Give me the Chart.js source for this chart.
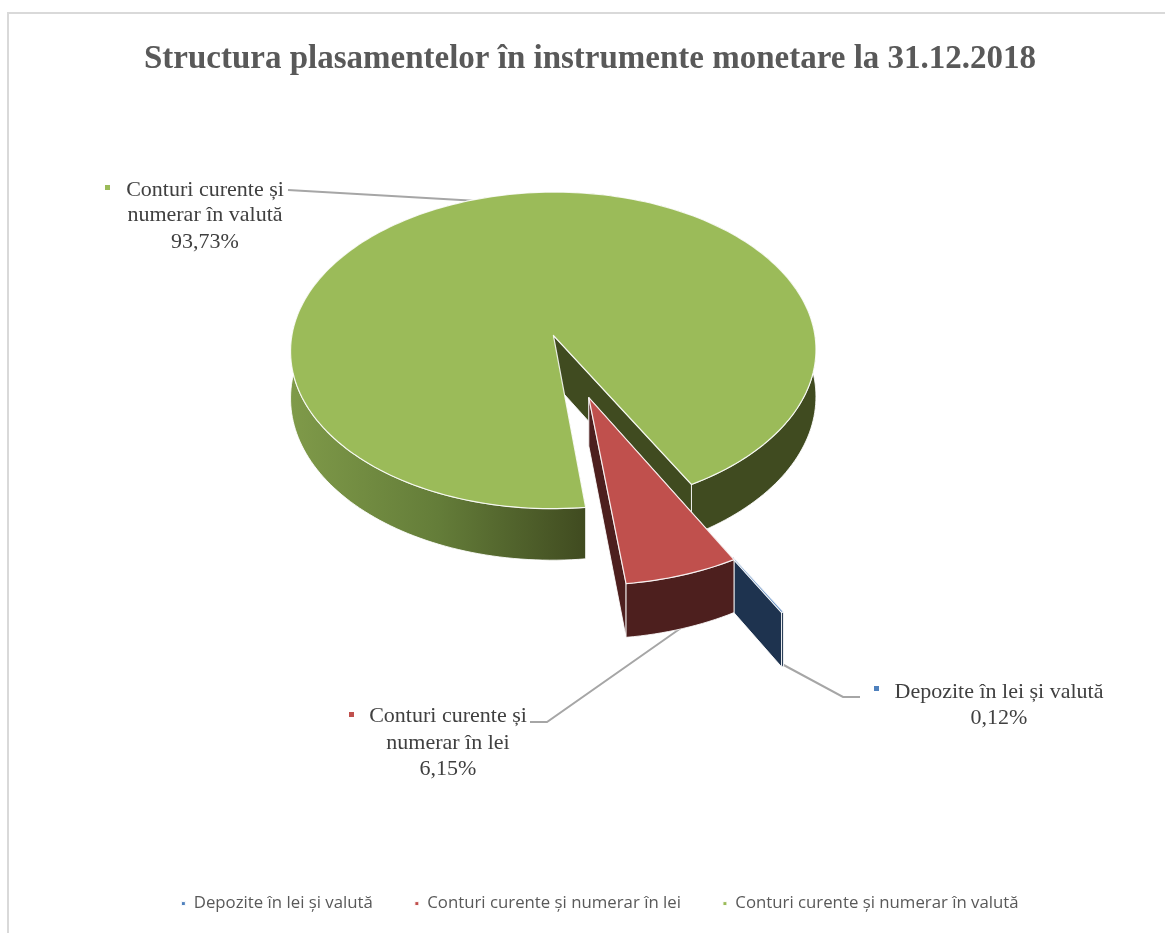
<!DOCTYPE html>
<html>
<head>
<meta charset="utf-8">
<style>html,body{margin:0;padding:0;background:#fff}canvas{display:block}</style>
<script src="https://cdn.jsdelivr.net/npm/chart.js@4/dist/chart.umd.min.js"></script>
</head>
<body>
<canvas id="c" width="1165" height="933"></canvas>
<script>
const titleText = "Structura plasamentelor în instrumente monetare la 31.12.2018";
const categories = ["Depozite în lei și valută", "Conturi curente și numerar în lei", "Conturi curente și numerar în valută"];
const values = [0.12, 6.15, 93.73];
const colors = ["#4f81bd", "#c0504d", "#9bbb59"];
const wallColors = ["#1e334f", "#4d1f1e", "#404b20"];
const explode = [130, 60, 50];
const dataLabelLines = [
  ["Depozite în lei și valută", "0,12%"],
  ["Conturi curente și", "numerar în lei", "6,15%"],
  ["Conturi curente și", "numerar în valută", "93,73%"]
];

// view settings of the tilted pie
const VIEW = {cx: 568.6, cy: 364, tilt: 0.61, persp: 0.00036, depth: 47.5};
function project(u, v, z) {
  const w = 1 - VIEW.persp * v;
  return [VIEW.cx + u / w, VIEW.cy + (VIEW.tilt * v + VIEW.depth * z) / w];
}
const LABEL_LAYOUT = [
  {x: 999, ys: [692, 718], mark: [876, 688], line: [[780, 663], [843, 697], [860, 697]], nudge: [-6, 7]},
  {x: 448, ys: [716, 743, 769], mark: [351, 714], line: [[681, 628], [547, 722], [530, 722]], nudge: [1.5, -2]},
  {x: 205, ys: [190, 215, 242], mark: [107, 187], line: [[288, 190], [478, 201]], nudge: [0, 0]}
];

const pie3d = {
  id: "pie3d",
  beforeDraw(chart) {
    const ctx = chart.ctx;
    ctx.save();
    ctx.strokeStyle = "#d9d9d9";
    ctx.lineWidth = 2;
    ctx.beginPath();
    ctx.moveTo(1165, 13); ctx.lineTo(8, 13); ctx.lineTo(8, 933);
    ctx.stroke();
    ctx.restore();
  },
  afterLayout(chart) {
    chart.legend.left += 10;
    chart.legend.right += 10;
  },
  beforeDatasetDraw(chart, args) {
    const ctx = chart.ctx;
    const meta = chart.getDatasetMeta(args.index);
    // leader lines sit under the pie
    ctx.save();
    ctx.strokeStyle = "#a6a6a6";
    ctx.lineWidth = 2;
    LABEL_LAYOUT.forEach(l => {
      ctx.beginPath();
      l.line.forEach((p, i) => i ? ctx.lineTo(p[0], p[1]) : ctx.moveTo(p[0], p[1]));
      ctx.stroke();
    });
    ctx.restore();

    const sideGrad = ctx.createLinearGradient(291, 0, 585, 0);
    sideGrad.addColorStop(0, "#7f9a49");
    sideGrad.addColorStop(0.5, "#647d39");
    sideGrad.addColorStop(1, "#404b20");

    // the neighbouring slice hides the inner part of the thin first slice
    const neighbour = meta.data[1];
    const nMid = (neighbour.startAngle + neighbour.endAngle) / 2, nOff = neighbour.options.offset;
    const hiddenUntil = project(
      nOff * Math.cos(nMid) + neighbour.outerRadius * Math.cos(neighbour.startAngle),
      nOff * Math.sin(nMid) + neighbour.outerRadius * Math.sin(neighbour.startAngle), 0)[0] + LABEL_LAYOUT[1].nudge[0];

    [2, 0, 1].forEach(i => {
      const el = meta.data[i];
      const R = el.outerRadius, a0 = el.startAngle, a1 = el.endAngle;
      const mid = (a0 + a1) / 2, off = el.options.offset;
      const n = Math.max(4, Math.ceil((a1 - a0) * 40));
      const ax = off * Math.cos(mid), ay = off * Math.sin(mid);
      const nudge = LABEL_LAYOUT[i].nudge;
      const pt = (u, v, z) => { const p = project(u, v, z); return [p[0] + nudge[0], p[1] + nudge[1]]; };
      const rim = [];
      for (let k = 0; k <= n; k++) {
        const a = a0 + (a1 - a0) * k / n;
        rim.push([ax + R * Math.cos(a), ay + R * Math.sin(a)]);
      }
      const poly = (pts) => {
        ctx.beginPath();
        pts.forEach((p, k) => k ? ctx.lineTo(p[0], p[1]) : ctx.moveTo(p[0], p[1]));
        ctx.closePath();
      };
      ctx.save();
      if (i === 0) {
        ctx.beginPath();
        ctx.rect(hiddenUntil - 0.5, 0, chart.width, chart.height);
        ctx.clip();
      }
      ctx.lineJoin = "round";
      ctx.strokeStyle = "rgba(255,255,255,0.85)";
      ctx.lineWidth = 1;
      // cut faces
      ctx.fillStyle = wallColors[i];
      [rim[0], rim[n]].forEach(e => {
        poly([pt(ax, ay, 0), pt(e[0], e[1], 0), pt(e[0], e[1], 1), pt(ax, ay, 1)]);
        ctx.fill();
        ctx.stroke();
      });
      // outer wall
      const band = rim.map(p => pt(p[0], p[1], 0)).concat(rim.slice().reverse().map(p => pt(p[0], p[1], 1)));
      ctx.fillStyle = i === 2 ? sideGrad : wallColors[i];
      poly(band);
      ctx.fill();
      ctx.stroke();
      // top face
      ctx.fillStyle = colors[i];
      poly([pt(ax, ay, 0)].concat(rim.map(p => pt(p[0], p[1], 0))));
      ctx.fill();
      ctx.lineWidth = 1.2;
      ctx.stroke();
      ctx.restore();
    });
    return false;
  },
  afterDatasetsDraw(chart) {
    const ctx = chart.ctx;
    ctx.save();
    ctx.textAlign = "center";
    ctx.textBaseline = "middle";
    ctx.font = '22px "Liberation Serif"';
    LABEL_LAYOUT.forEach((l, i) => {
      ctx.fillStyle = "#404040";
      dataLabelLines[i].forEach((t, k) => ctx.fillText(t, l.x, l.ys[k]));
      ctx.fillStyle = colors[i];
      ctx.fillRect(l.mark[0] - 2, l.mark[1] - 2, 5, 5);
    });
    ctx.restore();
  }
};

new Chart(document.getElementById("c"), {
  type: "pie",
  data: {
    labels: categories,
    datasets: [{data: values, backgroundColor: colors, borderColor: "#ffffff", borderWidth: 1, offset: explode}]
  },
  plugins: [pie3d],
  options: {
    responsive: false,
    animation: false,
    rotation: 150.7,
    radius: 266,
    layout: {padding: {left: 15, right: 0, top: 0, bottom: 11}},
    plugins: {
      tooltip: {enabled: false},
      title: {
        display: true,
        text: titleText,
        color: "#595959",
        font: {family: '"Liberation Serif"', size: 33, weight: "bold"},
        padding: {top: 40, bottom: 20}
      },
      legend: {
        position: "bottom",
        labels: {
          usePointStyle: true,
          pointStyle: "rect",
          boxWidth: 4,
          boxHeight: 4,
          padding: 42,
          color: "#595959",
          font: {family: '"Open Sans"', size: 16.8}
        }
      }
    }
  }
});
</script>
</body>
</html>
